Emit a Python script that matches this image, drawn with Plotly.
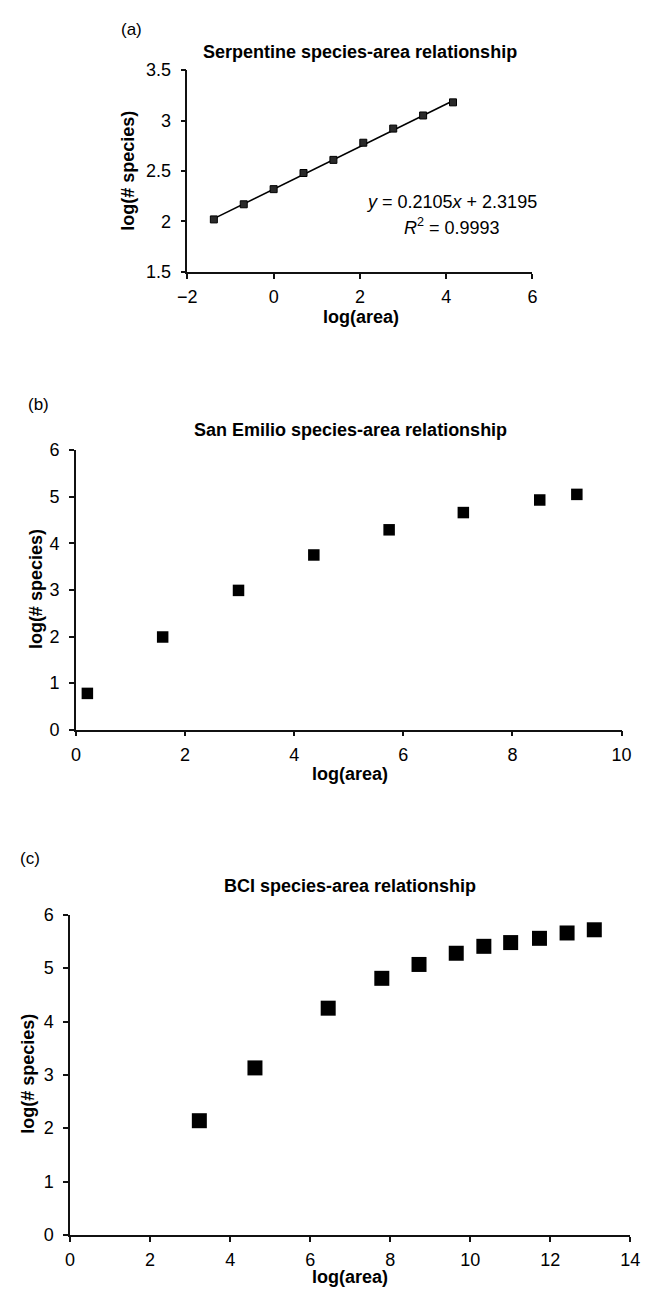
import plotly.graph_objects as go

# ---- data ----
a_x = [-1.386, -0.693, 0.0, 0.693, 1.386, 2.079, 2.773, 3.466, 4.159]
a_y = [2.02, 2.17, 2.32, 2.48, 2.61, 2.78, 2.92, 3.05, 3.18]
a_slope = 0.2105
a_intercept = 2.3195

b_x = [0.21, 1.59, 2.98, 4.36, 5.74, 7.10, 8.50, 9.18]
b_y = [0.78, 1.99, 2.99, 3.75, 4.29, 4.66, 4.93, 5.05]

c_x = [3.23, 4.62, 6.45, 7.79, 8.72, 9.65, 10.34, 11.01, 11.73, 12.42, 13.10]
c_y = [2.14, 3.13, 4.25, 4.81, 5.07, 5.28, 5.41, 5.48, 5.56, 5.66, 5.72]

titles = ["Serpentine species-area relationship",
          "San Emilio species-area relationship",
          "BCI species-area relationship"]
panel_labels = ["(a)", "(b)", "(c)"]
x_title = "log(area)"
y_title = "log(# species)"

W, H = 650, 1299
FONT = "Liberation Sans, Arial, Helvetica, sans-serif"

def px(x):
    return x / W

def py(y):
    return 1 - y / H

fig = go.Figure()

# panel (a)
fig.add_trace(go.Scatter(
    x=[min(a_x), max(a_x)],
    y=[a_slope * min(a_x) + a_intercept, a_slope * max(a_x) + a_intercept],
    mode="lines", line=dict(color="black", width=1.6),
    xaxis="x", yaxis="y", showlegend=False, hoverinfo="skip"))
fig.add_trace(go.Scatter(
    x=a_x, y=a_y, mode="markers",
    marker=dict(symbol="square", size=7, color="#2a2a2a",
                line=dict(color="black", width=1)),
    xaxis="x", yaxis="y", showlegend=False, cliponaxis=False))

# panel (b)
fig.add_trace(go.Scatter(
    x=b_x, y=b_y, mode="markers",
    marker=dict(symbol="square", size=11.5, color="black"),
    xaxis="x2", yaxis="y2", showlegend=False, cliponaxis=False))

# panel (c)
fig.add_trace(go.Scatter(
    x=c_x, y=c_y, mode="markers",
    marker=dict(symbol="square", size=15, color="black"),
    xaxis="x3", yaxis="y3", showlegend=False, cliponaxis=False))

axis_common = dict(showline=True, linecolor="#111111", linewidth=1.5,
                   ticks="outside", ticklen=5, tickwidth=1.5, tickcolor="#111111",
                   showgrid=False, zeroline=False,
                   tickfont=dict(family=FONT, size=18, color="black"))
xax = dict(ticklabelstandoff=3, **axis_common)
yax = dict(ticklabelstandoff=6, **axis_common)

fig.update_layout(
    width=W, height=H,
    margin=dict(l=0, r=0, t=0, b=0),
    paper_bgcolor="white", plot_bgcolor="white",
    font=dict(family=FONT, color="black"),
    xaxis=dict(domain=[px(183), px(539)], range=[-2, 6], dtick=2, anchor="y", **xax),
    yaxis=dict(domain=[py(266), py(61)], range=[1.5, 3.5], dtick=0.5, anchor="x", **yax),
    xaxis2=dict(domain=[px(68), px(631)], range=[0, 10], dtick=2, anchor="y2", **xax),
    yaxis2=dict(domain=[py(731), py(447)], range=[0, 6], dtick=1, anchor="x2", **yax),
    xaxis3=dict(domain=[px(62), px(640)], range=[0, 14], dtick=2, anchor="y3", **xax),
    yaxis3=dict(domain=[py(1244), py(919)], range=[0, 6], dtick=1, anchor="x3", **yax),
)

ann = []
def text(s, x, y, size, bold=False, angle=0, xanchor="center"):
    ann.append(dict(text=("<b>%s</b>" % s) if bold else s, x=px(x), y=py(y),
                    xref="paper", yref="paper", showarrow=False,
                    xanchor=xanchor, yanchor="middle", textangle=angle,
                    font=dict(family=FONT, size=size, color="black")))

# (a)
text(panel_labels[0], 125, 20, 17)
text(titles[0], 361, 43, 18, bold=True)
text(x_title, 362, 312, 18, bold=True)
text(y_title, 122, 163, 18, bold=True, angle=-90)
text("<i>y</i> = 0.2105<i>x</i> + 2.3195", 455, 195, 18)
text("<i>R</i><sup>2</sup> = 0.9993", 456, 220, 18)

# (b)
text(panel_labels[1], 29, 401, 17)
text(titles[1], 351, 427, 18, bold=True)
text(x_title, 351, 776, 18, bold=True)
text(y_title, 27, 588, 18, bold=True, angle=-90)

# (c)
text(panel_labels[2], 21, 862, 17)
text(titles[2], 351, 890, 18, bold=True)
text(x_title, 351, 1287, 18, bold=True)
text(y_title, 19, 1080, 18, bold=True, angle=-90)

fig.update_layout(annotations=ann)
fig.write_html("out.html")
